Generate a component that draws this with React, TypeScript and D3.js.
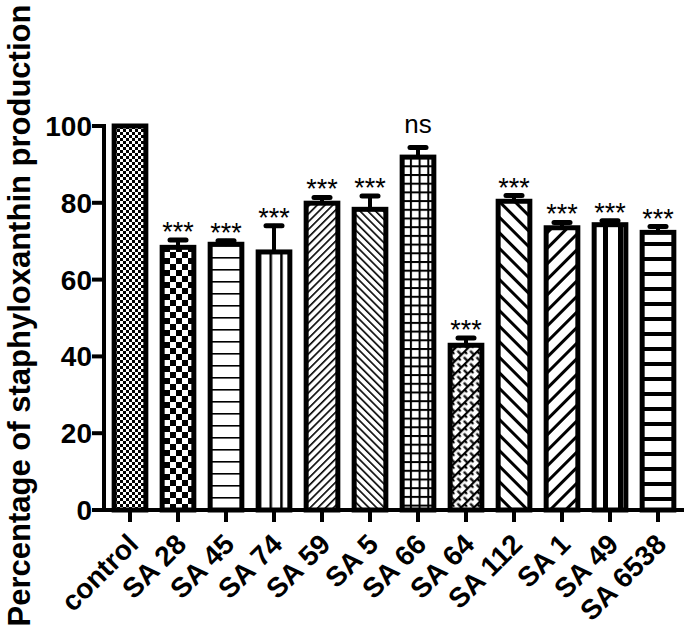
import * as d3 from "d3";

const categories = ["control", "SA 28", "SA 45", "SA 74", "SA 59", "SA 5", "SA 66", "SA 64", "SA 112", "SA 1", "SA 49", "SA 6538"];
const means = [100, 68.4, 69.2, 67.2, 79.9, 78.3, 91.9, 42.9, 80.4, 73.5, 74.3, 72.3];
const sems = [0, 1.9, 0.9, 6.8, 1.5, 3.5, 2.5, 1.9, 1.5, 1.4, 1.0, 1.5];
const sigLabels = ["", "***", "***", "***", "***", "***", "ns", "***", "***", "***", "***", "***"];
const patternIds = ["fineCheck", "bigCheck", "hThin", "vThin", "fwdDense", "backDense", "grid", "brick", "backWide", "fwdWide", "vThick", "hThick"];
const yTicks = [0, 20, 40, 60, 80, 100];

const W = 685;
const H = 635;
const axisX = 104;
const font = "Liberation Sans, Arial, sans-serif";

function Patterns() {
  return (
    <defs>
      <pattern id="fineCheck" patternUnits="userSpaceOnUse" width={6} height={6}>
        <rect width={6} height={6} fill="#fff" />
        <rect width={3} height={3} fill="#000" />
        <rect x={3} y={3} width={3} height={3} fill="#000" />
      </pattern>
      <pattern id="bigCheck" patternUnits="userSpaceOnUse" width={12} height={12} x={2}>
        <rect width={12} height={12} fill="#fff" />
        <rect width={6} height={6} fill="#000" />
        <rect x={6} y={6} width={6} height={6} fill="#000" />
      </pattern>
      <pattern id="hThin" patternUnits="userSpaceOnUse" width={12} height={12}>
        <rect width={12} height={12} fill="#fff" />
        <rect y={5} width={12} height={1.6} fill="#000" />
      </pattern>
      <pattern id="vThin" patternUnits="userSpaceOnUse" width={10.7} height={10} x={2}>
        <rect width={10.7} height={10} fill="#fff" />
        <rect x={0} width={2.5} height={10} fill="#000" />
      </pattern>
      <pattern id="fwdDense" patternUnits="userSpaceOnUse" width={5.5} height={5.5} patternTransform="rotate(45)">
        <rect width={5.5} height={5.5} fill="#fff" />
        <rect width={1.6} height={5.5} fill="#000" />
      </pattern>
      <pattern id="backDense" patternUnits="userSpaceOnUse" width={5.5} height={5.5} patternTransform="rotate(-45)">
        <rect width={5.5} height={5.5} fill="#fff" />
        <rect width={1.6} height={5.5} fill="#000" />
      </pattern>
      <pattern id="grid" patternUnits="userSpaceOnUse" width={8.7} height={8.7} x={1}>
        <rect width={8.7} height={8.7} fill="#fff" />
        <rect width={2} height={8.7} fill="#000" />
        <rect width={8.7} height={2} fill="#000" />
      </pattern>
      <pattern id="brick" patternUnits="userSpaceOnUse" width={9} height={9} patternTransform="rotate(45)">
        <rect width={9} height={9} fill="#fff" />
        <rect width={2.2} height={9} fill="#000" />
        <rect width={4.5} height={2.2} fill="#000" />
        <rect x={4.5} y={4.5} width={4.5} height={2.2} fill="#000" />
      </pattern>
      <pattern id="backWide" patternUnits="userSpaceOnUse" width={11} height={11} patternTransform="rotate(-45)">
        <rect width={11} height={11} fill="#fff" />
        <rect width={3} height={11} fill="#000" />
      </pattern>
      <pattern id="fwdWide" patternUnits="userSpaceOnUse" width={11} height={11} patternTransform="rotate(45)">
        <rect width={11} height={11} fill="#fff" />
        <rect width={3} height={11} fill="#000" />
      </pattern>
      <pattern id="vThick" patternUnits="userSpaceOnUse" width={15} height={10} x={3}>
        <rect width={15} height={10} fill="#fff" />
        <rect width={5} height={10} fill="#000" />
      </pattern>
      <pattern id="hThick" patternUnits="userSpaceOnUse" width={10} height={15} y={2}>
        <rect width={10} height={15} fill="#fff" />
        <rect width={10} height={4} fill="#000" />
      </pattern>
    </defs>
  );
}

export default function App() {
  const x = d3.scaleBand<string>().domain(categories).range([106, 682]).paddingInner(0.34).paddingOuter(0.17);
  const y = d3.scaleLinear().domain([0, 100]).range([510, 126]);

  return (
    <svg width={W} height={H} style={{ position: "absolute", left: 0, top: 0, background: "#fff" }}>
      <Patterns />
      <rect width={W} height={H} fill="#fff" />

      {/* bars */}
      {categories.map((c, i) => {
        const bx = x(c)!;
        const bw = x.bandwidth();
        const top = y(means[i]);
        return (
          <rect key={c} x={bx} y={top} width={bw} height={y(0) - top}
            fill={`url(#${patternIds[i]})`} stroke="#000" strokeWidth={5} />
        );
      })}

      {/* error bars */}
      {categories.map((c, i) => {
        if (!sems[i]) return null;
        const cx = x(c)! + x.bandwidth() / 2;
        const capY = y(means[i] + sems[i]);
        return (
          <g key={"e" + c} stroke="#000" strokeLinecap="round">
            <line x1={cx} x2={cx} y1={y(means[i])} y2={capY} strokeWidth={4} />
            <line x1={cx - 8} x2={cx + 8} y1={capY} y2={capY} strokeWidth={5} />
          </g>
        );
      })}

      {/* significance labels */}
      {categories.map((c, i) => {
        if (!sigLabels[i]) return null;
        const cx = x(c)! + x.bandwidth() / 2;
        const capY = y(means[i] + sems[i]);
        const isNs = sigLabels[i] === "ns";
        return (
          <text key={"s" + c} x={cx} y={isNs ? capY - 15 : capY + 1} textAnchor="middle"
            fontFamily={font} fontSize={isNs ? 26 : 27}>{sigLabels[i]}</text>
        );
      })}

      {/* y axis */}
      <line x1={axisX} x2={axisX} y1={y(100) - 2} y2={y(0) + 2} stroke="#000" strokeWidth={4} />
      {yTicks.map((t) => (
        <g key={t}>
          <line x1={axisX - 12} x2={axisX} y1={y(t)} y2={y(t)} stroke="#000" strokeWidth={4} />
          <text x={axisX - 12} y={y(t)} dy="0.36em" textAnchor="end" fontFamily={font}
            fontWeight="bold" fontSize={28}>{t}</text>
        </g>
      ))}

      {/* x axis */}
      <line x1={axisX - 2} x2={684} y1={y(0)} y2={y(0)} stroke="#000" strokeWidth={4} />
      {categories.map((c) => {
        const cx = x(c)! + x.bandwidth() / 2;
        return (
          <g key={"x" + c}>
            <line x1={cx} x2={cx} y1={y(0)} y2={y(0) + 12} stroke="#000" strokeWidth={4} />
            <text transform={`translate(${cx + 10},${y(0) + 36}) rotate(-45)`} textAnchor="end"
              fontFamily={font} fontWeight="bold" fontSize={28}>{c}</text>
          </g>
        );
      })}

      {/* y axis title */}
      <text transform={`translate(30,${H / 2 - 2}) rotate(-90)`} textAnchor="middle"
        fontFamily={font} fontWeight="bold" fontSize={31}>Percentage of staphyloxanthin production</text>
    </svg>
  );
}
